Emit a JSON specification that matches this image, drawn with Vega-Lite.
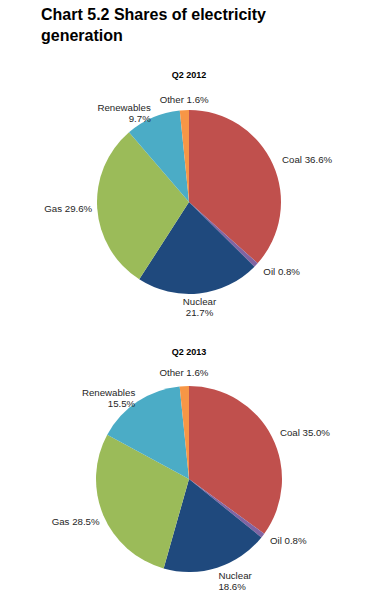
{
  "$schema": "https://vega.github.io/schema/vega-lite/v6.json",
  "padding": {"left": 0, "top": 7, "right": 0, "bottom": 0},
  "background": "white",
  "title": {
    "text": ["Chart 5.2 Shares of electricity", "generation"],
    "anchor": "start",
    "dx": 41,
    "font": "Liberation Sans",
    "fontSize": 16,
    "fontWeight": "bold",
    "lineHeight": 21,
    "color": "black",
    "offset": 27
  },
  "data": {
    "values": [
      {"year": "Q2 2012", "source": "Coal", "share": 36.6},
      {"year": "Q2 2012", "source": "Oil", "share": 0.8},
      {"year": "Q2 2012", "source": "Nuclear", "share": 21.7},
      {"year": "Q2 2012", "source": "Gas", "share": 29.6},
      {"year": "Q2 2012", "source": "Renewables", "share": 9.7},
      {"year": "Q2 2012", "source": "Other", "share": 1.6},
      {"year": "Q2 2013", "source": "Coal", "share": 35.0},
      {"year": "Q2 2013", "source": "Oil", "share": 0.8},
      {"year": "Q2 2013", "source": "Nuclear", "share": 18.6},
      {"year": "Q2 2013", "source": "Gas", "share": 28.5},
      {"year": "Q2 2013", "source": "Renewables", "share": 15.5},
      {"year": "Q2 2013", "source": "Other", "share": 1.6}
    ]
  },
  "spacing": 26,
  "vconcat": [
    {
      "width": 378,
      "height": 240,
      "title": {"text": "Q2 2012", "font": "Liberation Sans", "fontSize": 9, "fontWeight": "bold", "color": "black", "offset": 2},
      "transform": [
        {"filter": "datum.year === 'Q2 2012'"},
        {"calculate": "indexof(['Coal','Oil','Nuclear','Gas','Renewables','Other'], datum.source)", "as": "ord"},
        {"stack": "share", "groupby": ["year"], "sort": [{"field": "ord", "order": "ascending"}], "as": ["a0", "a1"]},
        {"calculate": "(datum.a0 + datum.a1) / 2", "as": "mid"},
        {"calculate": "datum.source + (indexof(['Renewables','Nuclear'], datum.source) >= 0 ? '\\n' : ' ') + format(datum.share, '.1f') + '%'", "as": "label"}
      ],
      "layer": [
        {
          "mark": {"type": "arc", "outerRadius": 92},
          "encoding": {
            "theta": {"field": "a0", "type": "quantitative", "scale": {"domain": [0, 100]}},
            "theta2": {"field": "a1"},
            "color": {"field": "source", "type": "nominal", "legend": null,
              "scale": {"domain": ["Coal", "Oil", "Nuclear", "Gas", "Renewables", "Other"],
                        "range": ["#C0504D", "#8064A2", "#1F497D", "#9BBB59", "#4BACC6", "#F79646"]}}
          }
        },
        {
          "transform": [{"filter": {"field": "source", "oneOf": ["Coal", "Oil"]}}],
          "mark": {"type": "text", "radius": 102, "align": "left", "baseline": "middle", "font": "Liberation Sans", "fontSize": 9.7, "color": "#262626", "lineBreak": "\n", "lineHeight": 11},
          "encoding": {"theta": {"field": "mid", "type": "quantitative", "scale": {"domain": [0, 100]}}, "text": {"field": "label"}}
        },
        {
          "transform": [{"filter": {"field": "source", "equal": "Gas"}}],
          "mark": {"type": "text", "radius": 97, "align": "right", "baseline": "middle", "font": "Liberation Sans", "fontSize": 9.7, "color": "#262626", "lineBreak": "\n", "lineHeight": 11},
          "encoding": {"theta": {"field": "mid", "type": "quantitative", "scale": {"domain": [0, 100]}}, "text": {"field": "label"}}
        },
        {
          "transform": [{"filter": {"field": "source", "equal": "Renewables"}}],
          "mark": {"type": "text", "radius": 97, "align": "right", "baseline": "bottom", "font": "Liberation Sans", "fontSize": 9.7, "color": "#262626", "lineBreak": "\n", "lineHeight": 11},
          "encoding": {"theta": {"field": "mid", "type": "quantitative", "scale": {"domain": [0, 100]}}, "text": {"field": "label"}}
        },
        {
          "transform": [{"filter": {"field": "source", "equal": "Other"}}],
          "mark": {"type": "text", "radius": 97, "align": "center", "baseline": "bottom", "font": "Liberation Sans", "fontSize": 9.7, "color": "#262626", "lineBreak": "\n", "lineHeight": 11},
          "encoding": {"theta": {"field": "mid", "type": "quantitative", "scale": {"domain": [0, 100]}}, "text": {"field": "label"}}
        },
        {
          "transform": [{"filter": {"field": "source", "equal": "Nuclear"}}],
          "mark": {"type": "text", "radius": 96, "align": "center", "baseline": "top", "font": "Liberation Sans", "fontSize": 9.7, "color": "#262626", "lineBreak": "\n", "lineHeight": 11},
          "encoding": {"theta": {"field": "mid", "type": "quantitative", "scale": {"domain": [0, 100]}}, "text": {"field": "label"}}
        }
      ]
    },
    {
      "width": 378,
      "height": 240,
      "title": {"text": "Q2 2013", "font": "Liberation Sans", "fontSize": 9, "fontWeight": "bold", "color": "black", "offset": 2},
      "transform": [
        {"filter": "datum.year === 'Q2 2013'"},
        {"calculate": "indexof(['Coal','Oil','Nuclear','Gas','Renewables','Other'], datum.source)", "as": "ord"},
        {"stack": "share", "groupby": ["year"], "sort": [{"field": "ord", "order": "ascending"}], "as": ["a0", "a1"]},
        {"calculate": "(datum.a0 + datum.a1) / 2", "as": "mid"},
        {"calculate": "datum.source + (indexof(['Renewables','Nuclear'], datum.source) >= 0 ? '\\n' : ' ') + format(datum.share, '.1f') + '%'", "as": "label"}
      ],
      "layer": [
        {
          "mark": {"type": "arc", "outerRadius": 93},
          "encoding": {
            "theta": {"field": "a0", "type": "quantitative", "scale": {"domain": [0, 100]}},
            "theta2": {"field": "a1"},
            "color": {"field": "source", "type": "nominal", "legend": null,
              "scale": {"domain": ["Coal", "Oil", "Nuclear", "Gas", "Renewables", "Other"],
                        "range": ["#C0504D", "#8064A2", "#1F497D", "#9BBB59", "#4BACC6", "#F79646"]}}
          }
        },
        {
          "transform": [{"filter": {"field": "source", "oneOf": ["Coal", "Oil"]}}],
          "mark": {"type": "text", "radius": 102, "align": "left", "baseline": "middle", "font": "Liberation Sans", "fontSize": 9.7, "color": "#262626", "lineBreak": "\n", "lineHeight": 11},
          "encoding": {"theta": {"field": "mid", "type": "quantitative", "scale": {"domain": [0, 100]}}, "text": {"field": "label"}}
        },
        {
          "transform": [{"filter": {"field": "source", "equal": "Gas"}}],
          "mark": {"type": "text", "radius": 97, "align": "right", "baseline": "top", "font": "Liberation Sans", "fontSize": 9.7, "color": "#262626", "lineBreak": "\n", "lineHeight": 11},
          "encoding": {"theta": {"field": "mid", "type": "quantitative", "scale": {"domain": [0, 100]}}, "text": {"field": "label"}}
        },
        {
          "transform": [{"filter": {"field": "source", "equal": "Renewables"}}],
          "mark": {"type": "text", "radius": 97, "align": "right", "baseline": "bottom", "font": "Liberation Sans", "fontSize": 9.7, "color": "#262626", "lineBreak": "\n", "lineHeight": 11},
          "encoding": {"theta": {"field": "mid", "type": "quantitative", "scale": {"domain": [0, 100]}}, "text": {"field": "label"}}
        },
        {
          "transform": [{"filter": {"field": "source", "equal": "Other"}}],
          "mark": {"type": "text", "radius": 101, "align": "center", "baseline": "bottom", "font": "Liberation Sans", "fontSize": 9.7, "color": "#262626", "lineBreak": "\n", "lineHeight": 11},
          "encoding": {"theta": {"field": "mid", "type": "quantitative", "scale": {"domain": [0, 100]}}, "text": {"field": "label"}}
        },
        {
          "transform": [{"filter": {"field": "source", "equal": "Nuclear"}}],
          "mark": {"type": "text", "radius": 97, "align": "left", "baseline": "top", "font": "Liberation Sans", "fontSize": 9.7, "color": "#262626", "lineBreak": "\n", "lineHeight": 11},
          "encoding": {"theta": {"field": "mid", "type": "quantitative", "scale": {"domain": [0, 100]}}, "text": {"field": "label"}}
        }
      ]
    }
  ],
  "config": {"view": {"stroke": null}}
}
